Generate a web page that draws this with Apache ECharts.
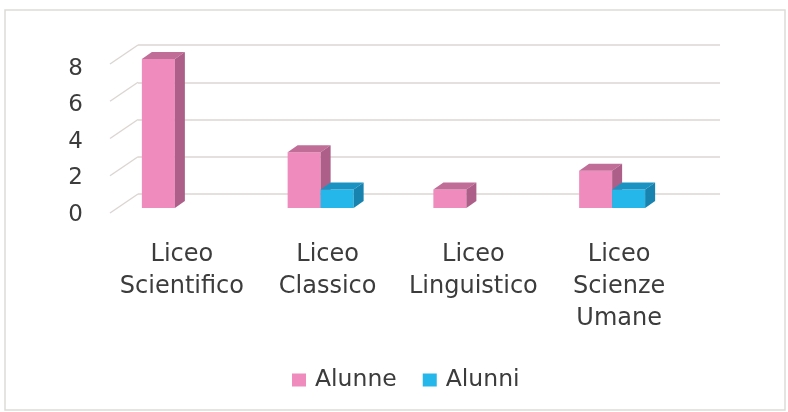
<!DOCTYPE html>
<html>
<head>
<meta charset="utf-8">
<script src="https://cdn.jsdelivr.net/npm/echarts@6/dist/echarts.min.js"></script>
<style>
  html, body { margin: 0; padding: 0; background: #fff; }
  #chart { width: 788px; height: 412px; }
</style>
</head>
<body>
<div id="chart"></div>
<script>
// dati
const categories = ['Liceo\nScientifico', 'Liceo\nClassico', 'Liceo\nLinguistico', 'Liceo\nScienze\nUmane']
const alunne = [8, 3, 1, 2]
const alunni = [0, 1, 0, 1]
const yTicks = [0, 2, 4, 6, 8]

const faceColors = {
  Alunne: { front: '#ef8bbd', top: '#c06d98', side: '#ad5f89' },
  Alunni: { front: '#25b6ea', top: '#1b93c2', side: '#1783ae' }
}
const barW = 33
const dx = 10
const dy = 7

function barRender(name, leftSide) {
  const c = faceColors[name]
  return function (params, api) {
    const val = api.value(1)
    if (!val) return null
    const top = api.coord([api.value(0), val])
    const base = api.coord([api.value(0), 0])
    const x0 = top[0] + (leftSide ? -barW : 0)
    const y0 = top[1]
    const y1 = base[1]
    return {
      type: 'group',
      children: [
        { type: 'rect', shape: { x: x0, y: y0, width: barW, height: y1 - y0 }, style: { fill: c.front } },
        { type: 'polygon', shape: { points: [[x0, y0], [x0 + dx, y0 - dy], [x0 + barW + dx, y0 - dy], [x0 + barW, y0]] }, style: { fill: c.top } },
        { type: 'polygon', shape: { points: [[x0 + barW, y0], [x0 + barW + dx, y0 - dy], [x0 + barW + dx, y1 - dy], [x0 + barW, y1]] }, style: { fill: c.side } }
      ]
    }
  }
}

const chart = echarts.init(document.getElementById('chart'))
const font = "'DejaVu Sans', sans-serif"

chart.setOption({
  backgroundColor: '#fff',
  animation: false,
  graphic: [{
    type: 'rect', z: -10, silent: true,
    shape: { x: 5, y: 10, width: 780, height: 400 },
    style: { fill: '#fff', stroke: '#dedbd8', lineWidth: 1.5 }
  }],
  legend: {
    data: ['Alunne', 'Alunni'],
    top: 363,
    left: 287,
    icon: 'rect',
    itemWidth: 14,
    itemHeight: 13,
    itemGap: 26,
    textStyle: { fontSize: 23.5, color: '#3c3c3c', fontFamily: font, padding: [0, 0, 0, 4] }
  },
  grid: [
    // parete di fondo
    { left: 138, right: 68, top: 45, bottom: 218 },
    // barre
    { left: 102, right: 103, top: 59, bottom: 204 },
    // asse frontale per le etichette
    { left: 110, right: 68, top: 69, bottom: 197 }
  ],
  xAxis: [
    { gridIndex: 0, type: 'category', data: categories, show: false },
    {
      gridIndex: 1, type: 'category', data: categories,
      axisLine: { show: false }, axisTick: { show: false },
      axisLabel: { color: '#3c3c3c', fontSize: 24, lineHeight: 32, margin: 31, fontFamily: font, padding: [0, 0, 0, 14], interval: 0 }
    },
    { gridIndex: 2, type: 'value', show: false }
  ],
  yAxis: [
    {
      gridIndex: 0, type: 'value', min: 0, max: 8, interval: 2,
      axisLine: { show: false }, axisTick: { show: false }, axisLabel: { show: false },
      splitLine: { lineStyle: { color: '#dcd6d2', width: 1.5 } }
    },
    { gridIndex: 1, type: 'value', min: 0, max: 8, show: false },
    {
      gridIndex: 2, type: 'value', min: 0, max: 8, interval: 2,
      axisLine: { show: false }, axisTick: { show: false }, splitLine: { show: false },
      axisLabel: { color: '#3c3c3c', fontSize: 23, margin: 27, fontFamily: font }
    }
  ],
  series: [
    {
      name: 'diagonali', type: 'custom', xAxisIndex: 0, yAxisIndex: 0, silent: true,
      data: yTicks.map(v => [0, v]),
      renderItem: (params, api) => {
        const p = api.coord([0, api.value(1)])
        const x = params.coordSys.x
        return {
          type: 'line',
          shape: { x1: x, y1: p[1], x2: x - 28, y2: p[1] + 19 },
          style: { stroke: '#dcd6d2', lineWidth: 1.5 }
        }
      }
    },
    {
      name: 'Alunne', type: 'custom', xAxisIndex: 1, yAxisIndex: 1,
      itemStyle: { color: faceColors.Alunne.front },
      data: alunne.map((v, i) => [i, v]),
      renderItem: barRender('Alunne', true)
    },
    {
      name: 'Alunni', type: 'custom', xAxisIndex: 1, yAxisIndex: 1,
      itemStyle: { color: faceColors.Alunni.front },
      data: alunni.map((v, i) => [i, v]),
      renderItem: barRender('Alunni', false)
    }
  ]
})
</script>
</body>
</html>
